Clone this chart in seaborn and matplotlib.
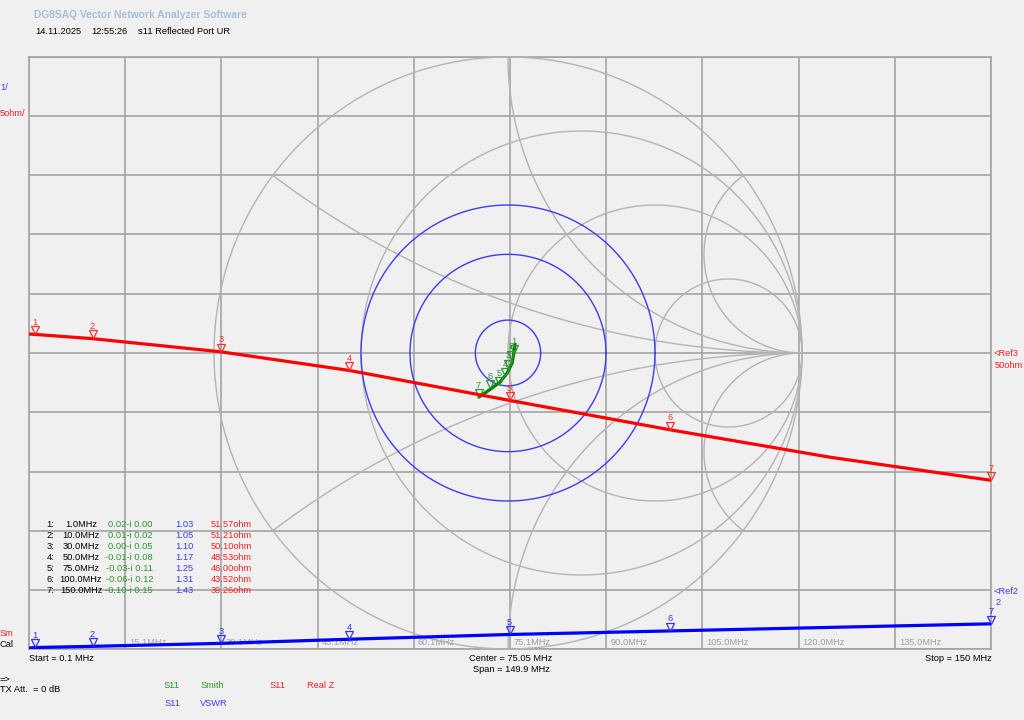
import numpy as np
import pandas as pd
import matplotlib
matplotlib.use("Agg")
import matplotlib.pyplot as plt
import matplotlib.transforms as mtransforms
import seaborn as sns

# ---------------- data ----------------
marker_ids = [1, 2, 3, 4, 5, 6, 7]
marker_freq = [1.0, 10.0, 30.0, 50.0, 75.0, 100.0, 150.0]
gamma_re = [0.02, 0.01, 0.00, -0.01, -0.03, -0.06, -0.10]
gamma_im = [0.00, -0.02, -0.05, -0.08, -0.11, -0.12, -0.15]
vswr = [1.03, 1.05, 1.10, 1.17, 1.25, 1.31, 1.43]
real_z = [51.57, 51.21, 50.10, 48.53, 46.00, 43.52, 39.26]

trace_freq = [0.1, 1.0, 10.0, 30.0, 50.0, 75.0, 100.0, 125.0, 150.0]
trace_real_z = [51.60, 51.57, 51.21, 50.10, 48.53, 46.00, 43.52, 41.20, 39.26]
trace_vswr = [1.02, 1.03, 1.05, 1.10, 1.17, 1.25, 1.31, 1.37, 1.43]
# Smith trace (reflection coefficient)
trace_gamma_re = [0.024, 0.020, 0.014, -0.003, -0.027, -0.054, -0.088, -0.099]
trace_gamma_im = [0.030, 0.000, -0.034, -0.068, -0.098, -0.118, -0.142, -0.149]

freq_tick_labels = ["15.1MHz", "30.1MHz", "45.1MHz", "60.1MHz", "75.1MHz",
                    "90.0MHz", "105.0MHz", "120.0MHz", "135.0MHz"]
smith_r = [1/3, 1.0, 3.0]
smith_x = [1/3, 1.0, 3.0]
vswr_circles = [1.25, 2.0, 3.0]

f_start, f_stop = 0.1, 150.0

# ---------------- style ----------------
BG = "#f0f0f0"
sns.set_style("whitegrid", rc={"axes.facecolor": BG, "figure.facecolor": BG,
                               "grid.color": "#a4a4a4", "axes.edgecolor": "#a4a4a4"})
plt.rcParams["font.family"] = ["Liberation Sans", "DejaVu Sans"]
FS = 6.7

fig = plt.figure(figsize=(10.24, 7.2), dpi=100, facecolor=BG)
L, R, T, B = 29, 991, 56.7, 649.3
pos = [L / 1024, (720 - B) / 720, (R - L) / 1024, (B - T) / 720]

# background grid
ax_bg = fig.add_axes(pos)
ax_bg.set_xlim(f_start, f_stop)
ax_bg.set_ylim(0, 10)
ax_bg.set_xticks(np.linspace(f_start, f_stop, 11))
ax_bg.set_yticks(np.arange(11))
ax_bg.grid(True, color="#a4a4a4", lw=1.2)
ax_bg.tick_params(length=0, labelbottom=False, labelleft=False)
for s in ax_bg.spines.values():
    s.set_color("#a4a4a4")
    s.set_linewidth(1.2)
grid_x = np.linspace(f_start, f_stop, 11)[1:-1]
for xv, lab in zip(grid_x, freq_tick_labels):
    ax_bg.annotate(lab, xy=(xv, 0), xycoords=("data", "axes fraction"),
                   xytext=(4, 6.5), textcoords="offset pixels",
                   ha="left", va="center", fontsize=FS, color="#a0a0a0")

# Smith chart
cx, rx, ry = 508, 294, 296
ax_s = fig.add_axes(pos, facecolor="none")
ax_s.set_axis_off()
gray = "#b4b4b4"
t = np.linspace(0, 2 * np.pi, 721)
ax_s.plot(np.cos(t), np.sin(t), color=gray, lw=1.0)
for r in smith_r:
    c, rad = r / (1 + r), 1 / (1 + r)
    ax_s.plot(c + rad * np.cos(t), rad * np.sin(t), color=gray, lw=1.0)
rr = np.concatenate([[0.0], np.logspace(-3, 3.5, 800)])
for xv in smith_x:
    for sgn in (1, -1):
        z = rr + 1j * sgn * xv
        g = (z - 1) / (z + 1)
        ax_s.plot(g.real, g.imag, color=gray, lw=1.0)
for sw in vswr_circles:
    m = (sw - 1) / (sw + 1)
    ax_s.plot(m * np.cos(t), m * np.sin(t), color="#3c3cf5", lw=1.0)

sns.lineplot(x=trace_gamma_re, y=trace_gamma_im, ax=ax_s, sort=False,
             color="#008000", lw=2.3)
ax_s.set_xlim((L - cx) / rx, (R - cx) / rx)
ax_s.set_ylim(-(B - 353) / ry, (353 - T) / ry)
ax_s.set_axis_off()

# Real Z
ax_z = fig.add_axes(pos, facecolor="none")
sns.lineplot(x=trace_freq, y=trace_real_z, ax=ax_z, color="#ff0000", lw=2.3)
ax_z.set_xlim(f_start, f_stop)
ax_z.set_ylim(25, 75)
ax_z.set_axis_off()

# VSWR
ax_v = fig.add_axes(pos, facecolor="none")
sns.lineplot(x=trace_freq, y=trace_vswr, ax=ax_v, color="#0000ff", lw=2.3)
ax_v.set_xlim(f_start, f_stop)
ax_v.set_ylim(1, 11)
ax_v.set_axis_off()


def markers(ax, xs, ys, color):
    off = mtransforms.ScaledTranslation(0, 4.2 / 100, fig.dpi_scale_trans)
    ax.plot(xs, ys, linestyle="none", marker="v", markersize=5.2,
            markerfacecolor="none", markeredgecolor=color, markeredgewidth=0.9,
            transform=ax.transData + off, clip_on=False)
    for i, xv, yv in zip(marker_ids, xs, ys):
        ax.annotate(str(i), xy=(xv, yv), xytext=(0, 12), textcoords="offset pixels",
                    ha="center", va="center", fontsize=FS, color=color,
                    annotation_clip=False)


markers(ax_z, marker_freq, real_z, "#ff3030")
markers(ax_v, marker_freq, vswr, "#3030ff")
markers(ax_s, gamma_re, gamma_im, "#2e962e")


# ---------------- texts ----------------
def ftxt(x, y, s, color="black", ha="left", fs=FS, **kw):
    fig.text(x / 1024, 1 - y / 720, s, ha=ha, va="center", fontsize=fs,
             color=color, **kw)


ftxt(34, 15, "DG8SAQ Vector Network Analyzer Software", color="#a9bed6",
     fontweight="bold", fs=7.4)
ftxt(35, 32, "14.11.2025")
ftxt(91, 32, "12:55:26")
ftxt(138, 32, "s11 Reflected Port UR")
ftxt(0, 88, "1/", color="#3c3cf5")
ftxt(0, 114, "5ohm/", color="#ff2020")
ftxt(0, 633, "Sm", color="#ff2020")
ftxt(0, 644.5, "Cal")
ftxt(29, 658.5, "Start = 0.1 MHz")
ftxt(511, 658.5, "Center = 75.05 MHz", ha="center")
ftxt(511, 669.5, "Span = 149.9 MHz", ha="center")
ftxt(992, 658.5, "Stop = 150 MHz", ha="right")
ftxt(0, 679, "=>")
ftxt(0, 689.5, "TX Att.  = 0 dB")
ftxt(164, 685.5, "S11", color="#2e962e")
ftxt(201, 685.5, "Smith", color="#2e962e")
ftxt(270, 685.5, "S11", color="#ff2020")
ftxt(307, 685.5, "Real Z", color="#ff2020")
ftxt(165, 703.5, "S11", color="#3c3cf5")
ftxt(200, 703.5, "VSWR", color="#3c3cf5")
ftxt(993, 354, "<Ref3", color="#ff2020")
ftxt(995, 365.5, "50ohm", color="#ff2020")
ftxt(993, 591.5, "<Ref2", color="#3c3cf5")
ftxt(996, 602.5, "2", color="#3c3cf5")

for k, (i, f, gr, gi, sw, rz) in enumerate(zip(marker_ids, marker_freq, gamma_re,
                                               gamma_im, vswr, real_z)):
    y = 524.3 + k * 11.1
    ftxt(46.5, y, f"{i}:")
    ftxt(81, y, f"{f:.1f}MHz", ha="center")
    ftxt(153, y, f"{gr:.2f}-i {abs(gi):.2f}", color="#2e962e", ha="right")
    ftxt(175, y, f"{sw:.2f}", color="#3c3cf5")
    ftxt(211, y, f"{rz:.2f}ohm", color="#ff2020")

fig.savefig("out.png", dpi=100, facecolor=BG)
